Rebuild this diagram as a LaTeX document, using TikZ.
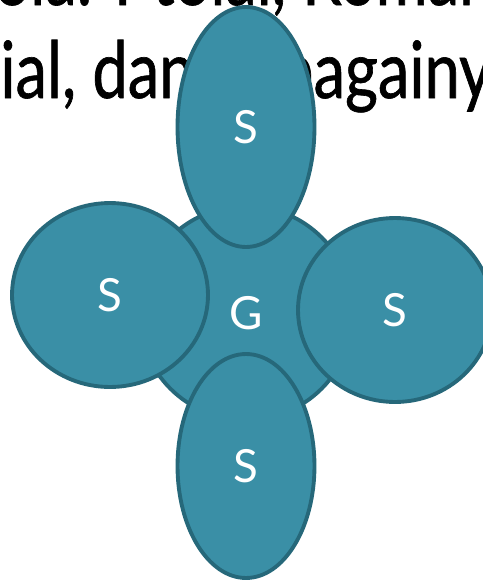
\documentclass[tikz,border=0pt]{standalone}
\usepackage{fontspec}
\setmainfont{Lato}
\newfontfamily\narrowfont[FakeStretch=0.8,FakeBold=0.8]{Lato}
\usetikzlibrary{shapes.geometric}
\definecolor{SatBlue}{RGB}{58,143,166}
\definecolor{SatEdge}{RGB}{38,104,122}
\tikzset{
  planet/.style={circle,draw=SatEdge,fill=SatBlue,line width=2.2pt,inner sep=0pt,
    text=white,font=\fontsize{26}{26}\selectfont},
  sat/.style={ellipse,draw=SatEdge,fill=SatBlue,line width=2.2pt,inner sep=0pt,
    text=white,font=\fontsize{26}{26}\selectfont},
  backtxt/.style={inner sep=0pt,font=\narrowfont\fontsize{45}{45}\selectfont}
}

\begin{document}
\begin{tikzpicture}[x=0.02cm,y=-0.02cm]
\useasboundingbox (0,0) rectangle (483,582);
\clip (0,0) rectangle (483,582);
% text behind the shapes
\node[backtxt,anchor=base west] (row1) at (-6,5) {ola: Ptolal, Roman};
\node[backtxt,anchor=base west] (row2a) at (0,98) {ial, dan};
\node[backtxt,anchor=base east] (row2b) at (492,98) {pagainy};
% planet and satellites
\node[planet,minimum size=4.28cm] (g) at (246,313) {G};
\node[sat,minimum width=3.92cm,minimum height=3.68cm] (sw) at (110,295) {S};
\node[sat,minimum width=3.88cm,minimum height=3.68cm] (se) at (395,310) {S};
\node[sat,minimum width=2.74cm,minimum height=4.48cm] (ss) at (246,466) {S};
\node[sat,minimum width=2.74cm,minimum height=4.8cm] (sn) at (246,127) {S};
\end{tikzpicture}
\end{document}
